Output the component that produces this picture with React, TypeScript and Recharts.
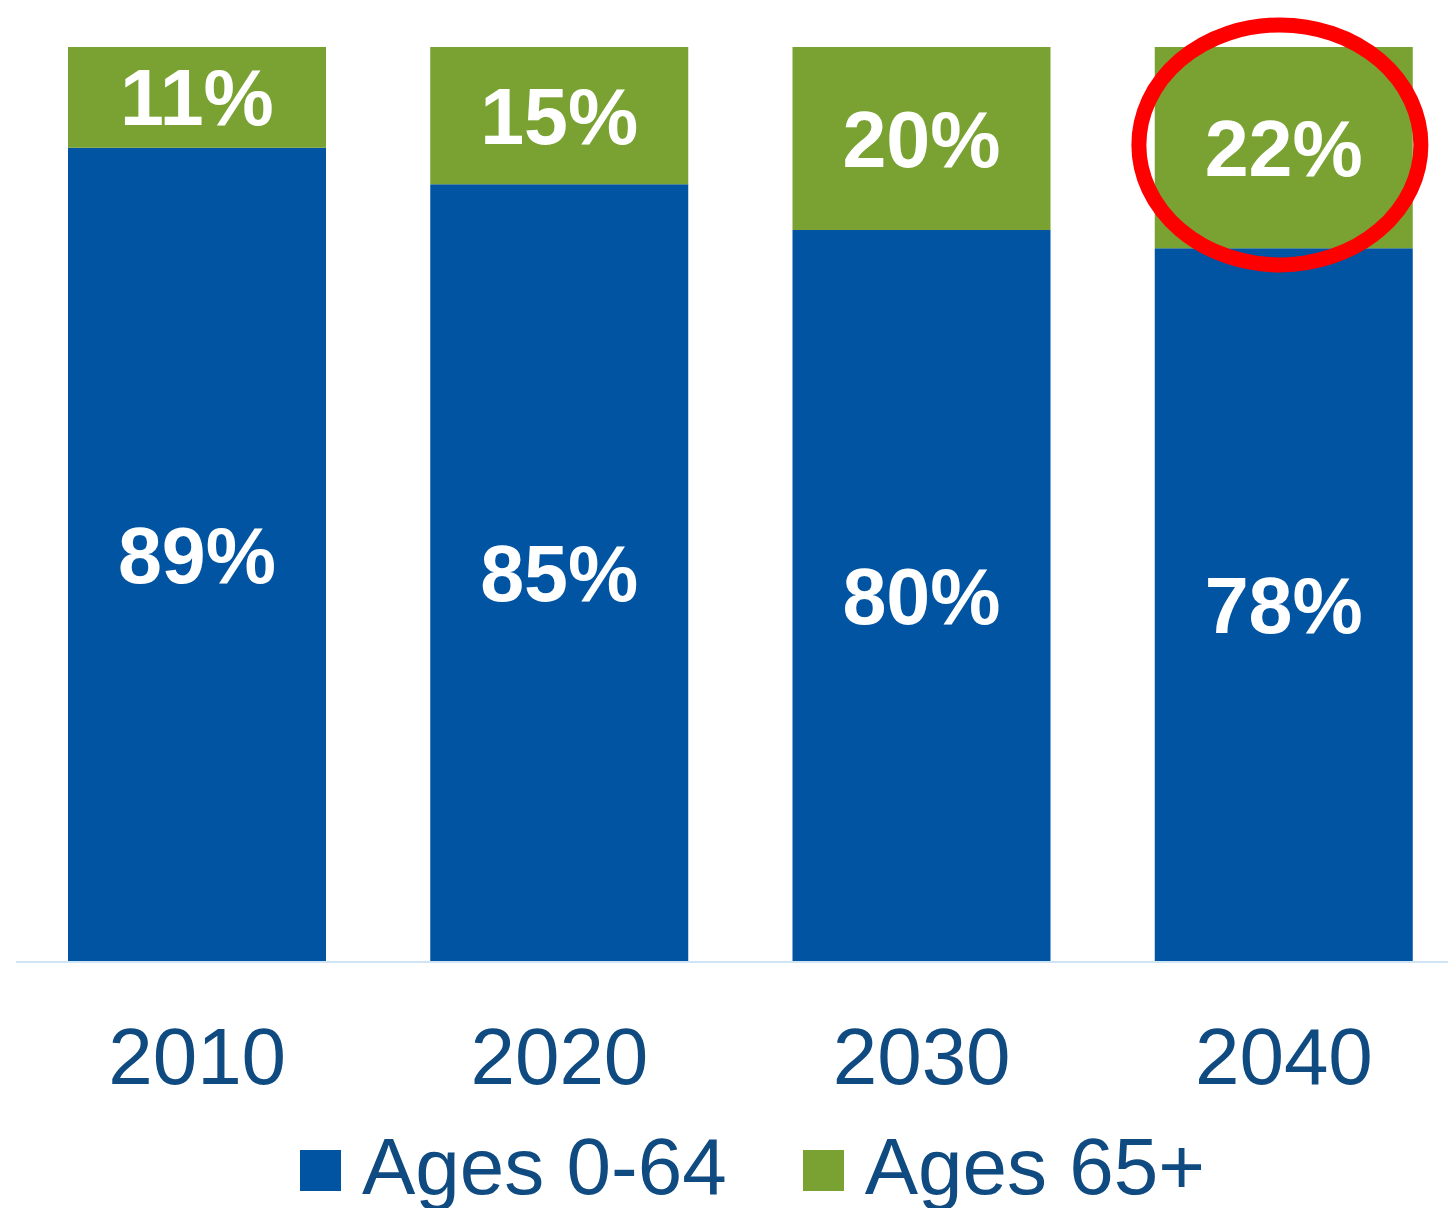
import React from 'react';
import { BarChart, Bar, XAxis, YAxis, LabelList, Legend, ReferenceDot } from 'recharts';

const categories = ['2010', '2020', '2030', '2040'];
const ages0to64 = [89, 85, 80, 78];
const ages65plus = [11, 15, 20, 22];
const seriesNames = ['Ages 0-64', 'Ages 65+'];
const highlightCategory = '2040';
const highlightValue = 89.3;

const BLUE = '#0154A2';
const GREEN = '#79A232';
const NAVY = '#0F4A80';
const FONT = '"Liberation Sans", Arial, Helvetica, sans-serif';

const data = categories.map((c, i) => ({ year: c, young: ages0to64[i], old: ages65plus[i] }));

const pct = (v: any) => `${v}%`;

const Tick = (props: any) => {
  const { x, y, payload } = props;
  return (
    <text x={x} y={y + 122} textAnchor="middle" fill={NAVY} fontSize={80} fontFamily={FONT}>
      {payload.value}
    </text>
  );
};

const LegendContent = () => {
  const items = [
    { name: seriesNames[0], color: BLUE },
    { name: seriesNames[1], color: GREEN },
  ];
  return (
    <div style={{ position: 'relative', height: 96, width: 1448, fontFamily: FONT }}>
      <div style={{ position: 'absolute', left: 300, top: 0, display: 'flex', alignItems: 'flex-start' }}>
        {items.map((it, i) => (
          <div key={it.name} style={{ display: 'flex', alignItems: 'flex-start', marginRight: i === 0 ? 76 : 0 }}>
            <div style={{ width: 41, height: 41, background: it.color, marginTop: 38, marginRight: 21 }} />
            <span style={{ fontSize: 80, lineHeight: '96px', color: NAVY, position: 'relative', top: 7, whiteSpace: 'nowrap' }}>
              {it.name}
            </span>
          </div>
        ))}
      </div>
    </div>
  );
};

const Ellipse = (props: any) => {
  const { cx, cy } = props;
  return <ellipse cx={cx - 4} cy={cy} rx={141} ry={120} fill="none" stroke="#FF0000" strokeWidth={15} />;
};

export default function App() {
  return (
    <div style={{ position: 'absolute', left: 0, top: 0, width: 1448, height: 1208, overflow: 'hidden', background: '#fff' }}>
      <BarChart
        width={1481}
        height={1208}
        data={data}
        margin={{ top: 47, left: 16, right: 16, bottom: 0 }}
        barSize={258}
      >
        <XAxis
          dataKey="year"
          height={150}
          tickLine={false}
          tickSize={0}
          tickMargin={0}
          axisLine={{ stroke: '#CFE5F5', strokeWidth: 2 }}
          tick={<Tick />}
          interval={0}
        />
        <YAxis hide domain={[0, 100]} />
        <Bar dataKey="young" name={seriesNames[0]} stackId="a" fill={BLUE} isAnimationActive={false}>
          <LabelList dataKey="young" position="center" formatter={pct} fill="#FFFFFF" fontSize={79} fontWeight="bold" fontFamily={FONT} />
        </Bar>
        <Bar dataKey="old" name={seriesNames[1]} stackId="a" fill={GREEN} isAnimationActive={false}>
          <LabelList dataKey="old" position="center" formatter={pct} fill="#FFFFFF" fontSize={79} fontWeight="bold" fontFamily={FONT} />
        </Bar>
        <ReferenceDot x={highlightCategory} y={highlightValue} shape={<Ellipse />} />
        <Legend verticalAlign="bottom" content={<LegendContent />} wrapperStyle={{ left: 0, width: 1448 }} />
      </BarChart>
    </div>
  );
}
